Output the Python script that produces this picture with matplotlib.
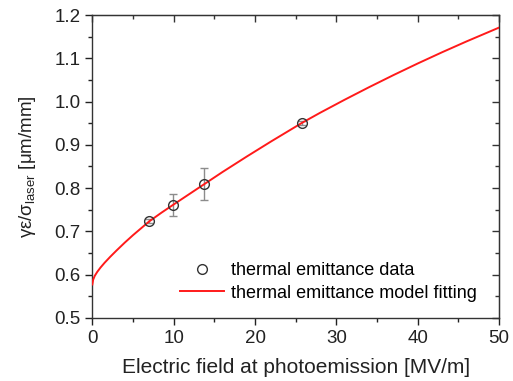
import matplotlib
matplotlib.use('Agg')
import matplotlib.pyplot as plt
from matplotlib.ticker import MultipleLocator, NullFormatter, FormatStrFormatter

plt.rcParams['font.family'] = ['Liberation Sans', 'DejaVu Sans']
plt.rcParams['mathtext.default'] = 'regular'

# measured thermal emittance
field = [7.0, 9.95, 13.7, 25.8]
emit = [0.724, 0.760, 0.809, 0.951]
emit_err = [0.005, 0.025, 0.037, 0.005]

# model fit curve
fit_field = [0, 0.1, 0.3, 0.6, 1, 1.5, 2.2, 3, 4, 5, 6, 7, 8.5, 10, 12, 14,
             16, 19, 22, 25.8, 28, 31, 34, 37, 40, 43, 46, 50]
fit_emit = [0.577, 0.588, 0.597, 0.606, 0.616, 0.627, 0.641, 0.656, 0.674, 0.691,
            0.707, 0.723, 0.743, 0.762, 0.787, 0.812, 0.837, 0.873, 0.908, 0.951,
            0.974, 1.004, 1.033, 1.061, 1.088, 1.114, 1.139, 1.171]

fig = plt.figure(figsize=(5.13, 3.81), dpi=100)
ax = fig.add_axes([0.18, 0.166, 0.793, 0.7946])

ax.errorbar(field, emit, yerr=emit_err, fmt='none', ecolor='#8c8c8c',
            elinewidth=1.0, capsize=3, capthick=1.0, zorder=2)
ax.plot(fit_field, fit_emit, color='#ff1a1a', lw=1.4, zorder=3,
        label='thermal emittance model fitting')
ax.plot(field, emit, 'o', mfc='none', mec='#333333', mew=1.0, ms=7, zorder=4,
        label='thermal emittance data')

ax.set_xlim(0, 50)
ax.set_ylim(0.5, 1.2)
ax.xaxis.set_major_locator(MultipleLocator(10))
ax.xaxis.set_minor_locator(MultipleLocator(5))
ax.yaxis.set_major_locator(MultipleLocator(0.1))
ax.yaxis.set_minor_locator(MultipleLocator(0.05))
ax.yaxis.set_major_formatter(FormatStrFormatter('%.1f'))

ax.tick_params(which='both', direction='out', top=False, right=False,
               labelsize=13.5, colors='#222222', width=1.0)
ax.tick_params(which='major', length=5)
ax.tick_params(which='minor', length=3)

for s in ax.spines.values():
    s.set_color('#333333')
    s.set_linewidth(1.0)

# inward ticks on top and right
top = ax.secondary_xaxis('top')
top.xaxis.set_major_locator(MultipleLocator(10))
top.xaxis.set_minor_locator(MultipleLocator(5))
top.xaxis.set_major_formatter(NullFormatter())
top.tick_params(which='both', direction='in', color='#333333', width=1.0)
top.tick_params(which='major', length=5)
top.tick_params(which='minor', length=3)
top.spines['top'].set_color('#333333')

right = ax.secondary_yaxis('right')
right.yaxis.set_major_locator(MultipleLocator(0.1))
right.yaxis.set_minor_locator(MultipleLocator(0.05))
right.yaxis.set_major_formatter(NullFormatter())
right.tick_params(which='both', direction='in', color='#333333', width=1.0)
right.tick_params(which='major', length=5)
right.tick_params(which='minor', length=3)
right.spines['right'].set_color('#333333')

ax.set_xlabel('Electric field at photoemission [MV/m]', fontsize=15,
              color='#222222', labelpad=8)
ax.set_ylabel('γε/σ$_{laser}$ [μm/mm]', fontsize=13.5, color='#222222',
              labelpad=12)

h, l = ax.get_legend_handles_labels()
ax.legend(h[::-1], l[::-1], loc='lower right', bbox_to_anchor=(0.985, 0.0),
          frameon=False, fontsize=13, handlelength=2.4, handletextpad=0.4,
          labelspacing=0.3)

fig.savefig('out.png', dpi=100)
